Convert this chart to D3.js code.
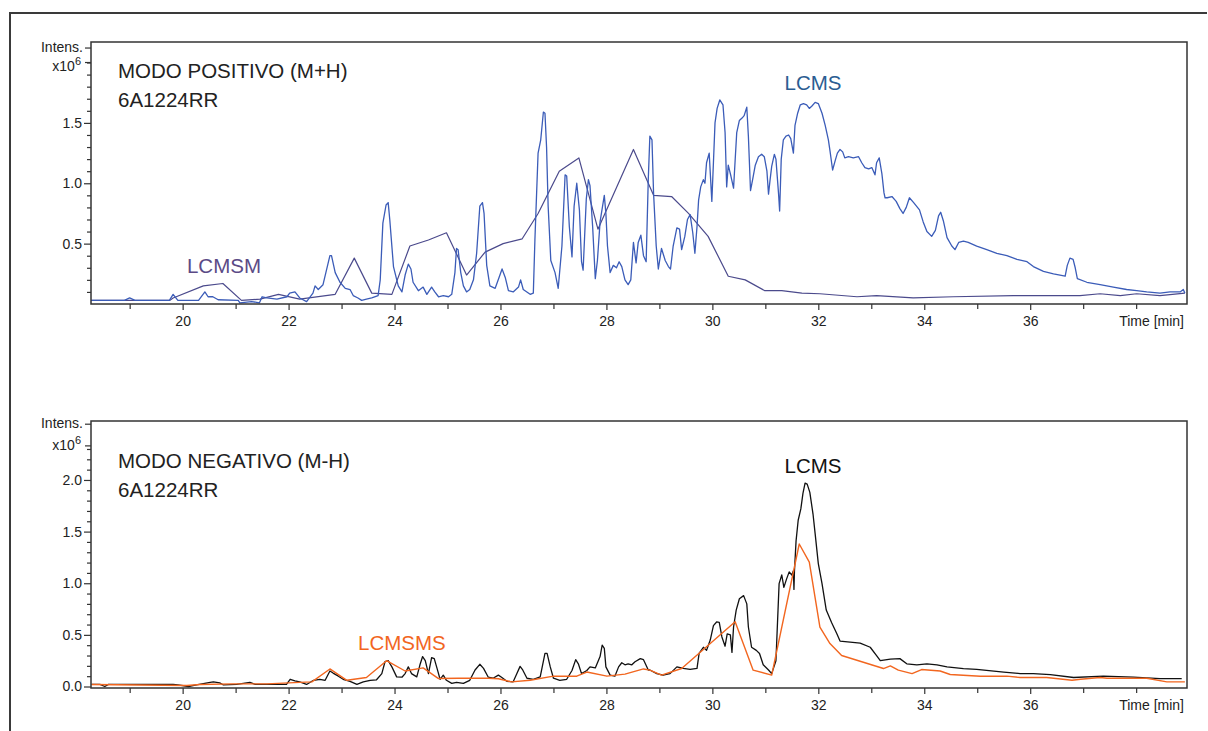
<!DOCTYPE html>
<html>
<head>
<meta charset="utf-8">
<script src="https://cdn.jsdelivr.net/npm/d3@7"></script>
<style>
  html, body { margin: 0; padding: 0; background: #fff; }
  svg { display: block; font-family: "Liberation Sans", Arial, sans-serif; }
</style>
</head>
<body>
<svg id="chart" width="1208" height="731"></svg>
<script>
// ---------------- DATA (time in min, intensity in x10^6) ----------------
const xMajorTicks = [20, 22, 24, 26, 28, 30, 32, 34, 36];
const xMinorTicks = [19, 21, 23, 25, 27, 29, 31, 33, 35, 37, 38];
const topYLabels = [0.5, 1.0, 1.5];
const botYLabels = [0.0, 0.5, 1.0, 1.5, 2.0];

const topTitle = ["MODO POSITIVO (M+H)", "6A1224RR"];
const botTitle = ["MODO NEGATIVO (M-H)", "6A1224RR"];

// Positive mode, LCMS (blue)
const topLcms = [
[18.27,0.03],[18.9,0.03],[19.0,0.05],[19.1,0.03],[19.75,0.03],[19.82,0.08],[19.91,0.03],[20.3,0.03],
[20.42,0.10],[20.48,0.06],[20.57,0.06],[20.67,0.035],[21.05,0.03],[21.08,0.01],[21.3,0.02],[21.45,0.01],
[21.5,0.06],[21.59,0.05],[21.78,0.04],[21.97,0.06],[22.02,0.09],[22.12,0.10],[22.21,0.05],[22.34,0.02],
[22.46,0.09],[22.50,0.15],[22.56,0.12],[22.65,0.16],[22.78,0.40],[22.81,0.40],[22.88,0.26],[22.97,0.18],
[23.07,0.13],[23.16,0.12],[23.22,0.07],[23.31,0.05],[23.38,0.03],[23.47,0.04],[23.57,0.05],[23.69,0.07],
[23.73,0.20],[23.78,0.67],[23.84,0.82],[23.88,0.84],[23.91,0.70],[23.98,0.31],[24.07,0.15],[24.14,0.10],
[24.20,0.24],[24.26,0.33],[24.31,0.29],[24.35,0.18],[24.45,0.11],[24.54,0.14],[24.61,0.08],[24.70,0.14],
[24.76,0.10],[24.83,0.06],[24.92,0.07],[25.02,0.06],[25.08,0.08],[25.14,0.26],[25.17,0.46],[25.20,0.45],
[25.25,0.26],[25.30,0.15],[25.36,0.10],[25.42,0.12],[25.49,0.20],[25.55,0.42],[25.61,0.81],[25.66,0.84],
[25.69,0.75],[25.74,0.32],[25.80,0.15],[25.90,0.13],[25.99,0.24],[26.03,0.29],[26.09,0.22],[26.15,0.11],
[26.24,0.10],[26.34,0.14],[26.38,0.20],[26.43,0.12],[26.56,0.08],[26.62,0.09],[26.65,0.53],[26.71,1.25],
[26.76,1.36],[26.81,1.59],[26.84,1.58],[26.87,1.30],[26.90,0.81],[26.95,0.36],[27.03,0.26],[27.09,0.13],
[27.16,0.48],[27.22,1.07],[27.25,1.06],[27.30,0.64],[27.35,0.39],[27.39,0.81],[27.44,1.00],[27.49,0.78],
[27.53,0.35],[27.56,0.28],[27.62,0.87],[27.66,1.03],[27.69,0.98],[27.74,0.64],[27.79,0.21],[27.83,0.36],
[27.88,0.68],[27.96,0.90],[27.99,0.75],[28.02,0.48],[28.07,0.26],[28.13,0.32],[28.19,0.30],[28.24,0.35],
[28.29,0.31],[28.35,0.20],[28.41,0.16],[28.46,0.20],[28.51,0.51],[28.56,0.34],[28.60,0.51],[28.65,0.57],
[28.70,0.40],[28.75,0.35],[28.79,1.03],[28.82,1.39],[28.86,1.36],[28.89,0.92],[28.94,0.48],[28.98,0.29],
[29.04,0.46],[29.11,0.36],[29.17,0.31],[29.21,0.29],[29.26,0.48],[29.33,0.63],[29.38,0.62],[29.42,0.45],
[29.48,0.56],[29.53,0.70],[29.58,0.74],[29.63,0.59],[29.67,0.42],[29.71,0.64],[29.74,0.86],[29.78,0.97],
[29.83,1.03],[29.86,1.00],[29.89,1.17],[29.94,1.25],[29.99,0.85],[30.02,1.17],[30.05,1.50],[30.09,1.62],
[30.14,1.69],[30.20,1.65],[30.24,1.42],[30.27,0.97],[30.30,1.15],[30.35,1.06],[30.40,0.96],[30.43,1.19],
[30.46,1.42],[30.51,1.52],[30.56,1.54],[30.60,1.56],[30.65,1.63],[30.68,1.39],[30.72,0.94],[30.76,1.03],
[30.81,1.15],[30.87,1.22],[30.93,1.24],[30.98,1.22],[31.03,1.10],[31.06,0.91],[31.09,1.03],[31.12,1.14],
[31.17,1.24],[31.20,1.20],[31.25,0.91],[31.27,0.77],[31.30,1.20],[31.34,1.36],[31.39,1.39],[31.44,1.40],
[31.48,1.37],[31.53,1.25],[31.56,1.48],[31.61,1.58],[31.66,1.65],[31.72,1.66],[31.78,1.65],[31.83,1.62],
[31.88,1.64],[31.94,1.67],[32.00,1.66],[32.07,1.58],[32.13,1.48],[32.19,1.36],[32.22,1.27],[32.27,1.11],
[32.32,1.19],[32.36,1.25],[32.41,1.28],[32.46,1.26],[32.50,1.21],[32.57,1.22],[32.66,1.21],[32.76,1.22],
[32.82,1.17],[32.88,1.13],[32.95,1.12],[33.01,1.13],[33.07,1.07],[33.10,1.17],[33.15,1.21],[33.20,1.08],
[33.24,0.92],[33.26,0.88],[33.30,0.88],[33.39,0.89],[33.47,0.85],[33.54,0.79],[33.60,0.75],[33.66,0.80],
[33.72,0.88],[33.80,0.84],[33.91,0.78],[33.98,0.68],[34.05,0.60],[34.14,0.56],[34.21,0.61],[34.27,0.73],
[34.31,0.76],[34.36,0.69],[34.43,0.55],[34.52,0.48],[34.58,0.45],[34.65,0.51],[34.74,0.52],[34.83,0.51],
[34.99,0.48],[35.18,0.45],[35.37,0.42],[35.56,0.40],[35.75,0.37],[35.94,0.35],[36.06,0.31],[36.25,0.27],
[36.44,0.25],[36.66,0.23],[36.70,0.32],[36.75,0.38],[36.81,0.37],[36.85,0.30],[36.89,0.21],[37.07,0.18],
[37.32,0.16],[37.57,0.14],[37.82,0.12],[38.01,0.11],[38.20,0.10],[38.45,0.09],[38.64,0.10],[38.83,0.10],
[38.89,0.12],[38.92,0.09]
];

// Positive mode, LCMSM (purple)
const topLcmsm = [
[18.28,0.03],[19.76,0.03],[19.82,0.05],[20.39,0.15],[20.76,0.17],[21.11,0.03],[21.46,0.04],[21.81,0.08],
[22.21,0.04],[22.88,0.08],[23.24,0.38],[23.57,0.09],[23.95,0.08],[24.29,0.48],[24.64,0.53],[24.98,0.59],
[25.36,0.24],[25.71,0.43],[26.05,0.50],[26.41,0.54],[26.71,0.75],[27.11,1.10],[27.48,1.21],[27.84,0.62],
[28.51,1.28],[28.89,0.90],[29.23,0.89],[29.55,0.75],[29.92,0.56],[30.30,0.23],[30.62,0.20],[30.99,0.11],
[31.31,0.11],[31.69,0.09],[32.03,0.085],[32.73,0.06],[33.10,0.07],[33.79,0.05],[34.55,0.06],[35.68,0.07],
[36.94,0.07],[37.32,0.085],[37.70,0.07],[38.01,0.085],[38.45,0.07],[38.92,0.09]
];

// Negative mode, LCMS (black)
const botLcms = [
[18.28,0.02],[18.44,0.02],[18.53,0.00],[18.60,0.02],[19.82,0.02],[19.91,0.015],[20.11,0.00],[20.26,0.015],
[20.52,0.04],[20.58,0.045],[20.70,0.035],[20.77,0.015],[21.02,0.02],[21.27,0.04],[21.37,0.02],[21.96,0.02],
[22.03,0.07],[22.12,0.055],[22.21,0.045],[22.34,0.02],[22.47,0.06],[22.59,0.07],[22.69,0.06],[22.78,0.15],
[22.84,0.13],[22.94,0.10],[23.03,0.07],[23.16,0.05],[23.29,0.02],[23.41,0.045],[23.54,0.06],[23.66,0.065],
[23.76,0.125],[23.82,0.24],[23.88,0.25],[23.95,0.19],[24.04,0.093],[24.14,0.09],[24.20,0.125],[24.26,0.19],
[24.32,0.125],[24.42,0.093],[24.48,0.21],[24.53,0.29],[24.58,0.25],[24.64,0.125],[24.70,0.28],[24.75,0.27],
[24.80,0.18],[24.86,0.07],[24.92,0.11],[24.98,0.06],[25.08,0.03],[25.17,0.04],[25.30,0.03],[25.42,0.06],
[25.52,0.16],[25.61,0.215],[25.68,0.175],[25.77,0.09],[25.86,0.08],[25.96,0.11],[26.02,0.09],[26.12,0.05],
[26.24,0.045],[26.31,0.125],[26.37,0.195],[26.42,0.16],[26.50,0.08],[26.62,0.07],[26.75,0.093],[26.84,0.32],
[26.88,0.32],[26.94,0.19],[27.00,0.08],[27.12,0.06],[27.25,0.07],[27.35,0.155],[27.42,0.26],[27.47,0.22],
[27.53,0.125],[27.63,0.155],[27.69,0.19],[27.79,0.18],[27.88,0.29],[27.92,0.40],[27.96,0.37],[27.99,0.19],
[28.07,0.11],[28.16,0.10],[28.23,0.19],[28.29,0.23],[28.35,0.21],[28.41,0.22],[28.48,0.21],[28.54,0.24],
[28.64,0.27],[28.70,0.26],[28.79,0.16],[28.82,0.16],[28.95,0.125],[29.07,0.11],[29.20,0.125],[29.33,0.19],
[29.45,0.175],[29.58,0.165],[29.71,0.175],[29.75,0.32],[29.83,0.38],[29.89,0.35],[29.96,0.45],[30.02,0.59],
[30.08,0.625],[30.13,0.62],[30.18,0.48],[30.24,0.39],[30.28,0.51],[30.34,0.50],[30.37,0.33],[30.40,0.576],
[30.45,0.74],[30.51,0.85],[30.59,0.88],[30.65,0.80],[30.68,0.576],[30.74,0.38],[30.83,0.35],[30.89,0.32],
[30.96,0.21],[31.06,0.16],[31.12,0.125],[31.20,0.25],[31.26,0.996],[31.31,1.08],[31.35,0.96],[31.40,1.04],
[31.45,1.11],[31.50,1.08],[31.53,1.12],[31.54,0.94],[31.55,1.12],[31.58,1.41],[31.62,1.61],[31.67,1.72],
[31.71,1.87],[31.75,1.97],[31.79,1.96],[31.84,1.88],[31.90,1.67],[31.94,1.48],[32.00,1.19],[32.07,0.996],
[32.15,0.74],[32.25,0.62],[32.35,0.51],[32.41,0.44],[32.60,0.43],[32.79,0.42],[32.98,0.38],[33.10,0.30],
[33.17,0.25],[33.36,0.265],[33.54,0.27],[33.67,0.22],[33.86,0.21],[34.05,0.22],[34.24,0.21],[34.43,0.19],
[34.74,0.174],[34.99,0.165],[35.50,0.14],[35.81,0.125],[36.06,0.125],[36.38,0.115],[36.82,0.087],[37.38,0.10],
[37.95,0.09],[38.45,0.077],[38.86,0.077]
];

// Negative mode, LCMSMS (orange)
const botLcmsms = [
[18.28,0.02],[20.08,0.01],[20.33,0.02],[20.96,0.025],[21.59,0.025],[22.21,0.04],[22.44,0.045],[22.78,0.17],
[23.10,0.06],[23.47,0.087],[23.85,0.25],[24.20,0.15],[24.54,0.18],[24.83,0.077],[25.20,0.08],[25.77,0.08],
[25.96,0.075],[26.21,0.045],[26.56,0.06],[27.00,0.10],[27.44,0.10],[27.63,0.14],[28.01,0.10],[28.35,0.12],
[28.70,0.17],[28.82,0.158],[29.04,0.11],[29.42,0.174],[30.43,0.627],[30.77,0.158],[31.12,0.11],[31.64,1.38],
[31.83,1.205],[32.03,0.576],[32.22,0.416],[32.44,0.30],[33.23,0.174],[33.36,0.20],[33.51,0.158],[33.77,0.125],
[33.95,0.164],[34.30,0.15],[34.49,0.116],[35.06,0.10],[35.56,0.10],[35.81,0.087],[36.31,0.087],[36.79,0.06],
[36.95,0.07],[37.32,0.087],[37.45,0.08],[38.20,0.08],[38.58,0.045],[38.92,0.045]
];

// ---------------- LAYOUT ----------------
const svg = d3.select("#chart");
svg.append("rect").attr("width", 1208).attr("height", 731).attr("fill", "#fff");

// outer frame (left and top edges visible)
svg.append("path")
  .attr("d", "M10,731 L10,13 L1207,13")
  .attr("fill", "none").attr("stroke", "#3a3a3a").attr("stroke-width", 2);

const xDomain = [18.27, 38.96];
const left = 91, right = 1187;

const panels = [
  {
    top: 42, bottom: 304, yDomain: [0, 2.17],
    yLabels: topYLabels, minorMax: 2.0, expTick: 2.0, intensTick: 2.12,
    expOffset: 8.5, intensOffset: 4.2,
    title: topTitle, titleY: [77.5, 107],
    series: [
      { data: topLcmsm, color: "#4b4a8c", width: 1.2 },
      { data: topLcms, color: "#3b5cb8", width: 1.3 }
    ],
    labels: [
      { text: "LCMS", t: 31.90, y: 89.5, color: "#2b5d92" },
      { text: "LCMSM", t: 20.78, y: 273, color: "#5b4a86" }
    ]
  },
  {
    top: 421, bottom: 688, yDomain: [-0.0145, 2.571],
    yLabels: botYLabels, minorMax: 2.3, expTick: 2.33, intensTick: 2.54,
    expOffset: 4, intensOffset: 4.2,
    title: botTitle, titleY: [468, 497],
    series: [
      { data: botLcms, color: "#111111", width: 1.3 },
      { data: botLcmsms, color: "#f2661f", width: 1.4 }
    ],
    labels: [
      { text: "LCMS", t: 31.90, y: 473, color: "#111111" },
      { text: "LCMSMS", t: 24.14, y: 649.5, color: "#f2661f" }
    ]
  }
];

panels.forEach(p => {
  const x = d3.scaleLinear().domain(xDomain).range([left, right]);
  const y = d3.scaleLinear().domain(p.yDomain).range([p.bottom, p.top]);
  const g = svg.append("g");

  // clip
  const clipId = "clip" + p.top;
  svg.append("clipPath").attr("id", clipId)
    .append("rect").attr("x", left).attr("y", p.top)
    .attr("width", right - left).attr("height", p.bottom - p.top);

  // series
  const line = d3.line().x(d => x(d[0])).y(d => y(d[1]));
  p.series.forEach(s => {
    g.append("path").datum(s.data)
      .attr("clip-path", `url(#${clipId})`)
      .attr("d", line)
      .attr("fill", "none")
      .attr("stroke", s.color)
      .attr("stroke-width", s.width)
      .attr("stroke-linejoin", "round");
  });

  // frame
  g.append("rect").attr("x", left).attr("y", p.top)
    .attr("width", right - left).attr("height", p.bottom - p.top)
    .attr("fill", "none").attr("stroke", "#333").attr("stroke-width", 1.5);

  // x axis (major ticks with labels)
  const xAxis = d3.axisBottom(x).tickValues(xMajorTicks).tickSize(6).tickSizeOuter(0)
    .tickFormat(d3.format("d"));
  const xa = g.append("g").attr("transform", `translate(0,${p.bottom})`).call(xAxis);
  xa.select(".domain").remove();
  xa.selectAll("line").attr("stroke", "#333").attr("stroke-width", 1.2);
  xa.selectAll("text").attr("font-size", 14).attr("fill", "#222")
    .attr("font-family", "Liberation Sans, Arial, sans-serif").attr("dy", "0.95em");

  const xm = g.append("g").attr("transform", `translate(0,${p.bottom})`)
    .call(d3.axisBottom(x).tickValues(xMinorTicks).tickSize(5).tickSizeOuter(0).tickFormat(""));
  xm.select(".domain").remove();
  xm.selectAll("line").attr("stroke", "#333").attr("stroke-width", 1.2);

  g.append("text").attr("x", right - 3).attr("y", p.bottom + 22)
    .attr("text-anchor", "end").attr("font-size", 14).attr("fill", "#222")
    .text("Time [min]");

  // y axis: major ticks with labels
  const ya = g.append("g").attr("transform", `translate(${left},0)`)
    .call(d3.axisLeft(y).tickValues(p.yLabels).tickSize(7).tickSizeOuter(0)
      .tickFormat(d3.format(".1f")));
  ya.select(".domain").remove();
  ya.selectAll("line").attr("stroke", "#333").attr("stroke-width", 1.2);
  ya.selectAll("text").attr("font-size", 14).attr("fill", "#222")
    .attr("font-family", "Liberation Sans, Arial, sans-serif").attr("x", -9);

  // minor ticks every 0.1
  const minor = d3.range(0, Math.round(p.minorMax * 10) + 1)
    .map(i => i / 10)
    .filter(v => !p.yLabels.some(l => Math.abs(l - v) < 1e-6) && v > p.yDomain[0] + 1e-6 && v > 0.05);
  const ym = g.append("g").attr("transform", `translate(${left},0)`)
    .call(d3.axisLeft(y).tickValues(minor).tickSize(4).tickSizeOuter(0).tickFormat(""));
  ym.select(".domain").remove();
  ym.selectAll("line").attr("stroke", "#333").attr("stroke-width", 1.2);

  // Intens. and x10^6 ticks + labels
  [p.expTick, p.intensTick].forEach(v => {
    g.append("line").attr("x1", left - 6).attr("x2", left)
      .attr("y1", y(v)).attr("y2", y(v)).attr("stroke", "#333").attr("stroke-width", 1.2);
  });
  g.append("text").attr("x", left - 8).attr("y", y(p.intensTick) + p.intensOffset)
    .attr("text-anchor", "end").attr("font-size", 14).attr("fill", "#222").text("Intens.");
  const et = g.append("text").attr("x", left - 10).attr("y", y(p.expTick) + p.expOffset)
    .attr("text-anchor", "end").attr("font-size", 14).attr("fill", "#222");
  et.append("tspan").text("x10");
  et.append("tspan").attr("font-size", 11).attr("dy", -6).text("6");

  // titles
  p.title.forEach((t, i) => {
    g.append("text").attr("x", 118).attr("y", p.titleY[i])
      .attr("font-size", 20.5).attr("fill", "#222").text(t);
  });

  // series labels
  p.labels.forEach(l => {
    g.append("text").attr("x", x(l.t)).attr("y", l.y)
      .attr("text-anchor", "middle").attr("font-size", 20.5).attr("fill", l.color).text(l.text);
  });
});
</script>
</body>
</html>
